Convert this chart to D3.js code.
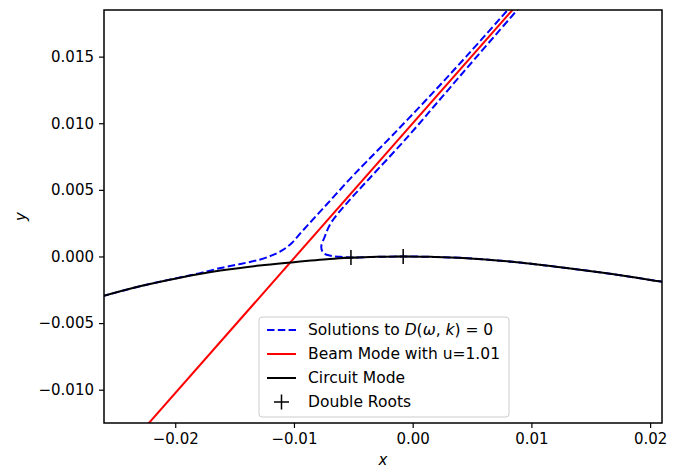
<!DOCTYPE html>
<html><head><meta charset="utf-8">
<script src="https://cdn.jsdelivr.net/npm/d3@7"></script>
<style>
body{margin:0;background:#fff}
text{font-family:"DejaVu Sans",sans-serif;fill:#000}
</style>
</head><body><svg id="c" width="681" height="468"></svg>
<script>
// ---- data ----
const xTicks = [-0.02, -0.01, 0.00, 0.01, 0.02];
const yTicks = [-0.010, -0.005, 0.000, 0.005, 0.010, 0.015];
const xDomain = [-0.026, 0.021];
const yDomain = [-0.0125, 0.0185];

// Solutions to D(w,k)=0, upper branch
const solUpperX = [-0.0262,-0.0229,-0.0196,-0.0179,-0.0162,-0.0145,-0.0129,-0.0118,-0.0110,-0.0102,-0.0093,-0.0074,-0.0052,-0.0039,-0.0017,0.0014,0.0045,0.0083,0.0090];
const solUpperY = [-0.00300,-0.00222,-0.00157,-0.00125,-0.00087,-0.00056,-0.00024,0.00010,0.00045,0.00100,0.00190,0.00375,0.00590,0.00710,0.00910,0.01200,0.01500,0.01880,0.01950];
// Solutions to D(w,k)=0, lower branch
const solLowerX = [0.0098,0.0091,0.0054,0.0025,-0.0004,-0.0037,-0.0053,-0.0069,-0.0074,-0.0077,-0.0075,-0.0069,-0.0061,-0.0052,-0.0030,-0.0008,0.0015,0.0042,0.0084,0.0126,0.0168,0.0209,0.0215];
const solLowerY = [0.0195,0.0188,0.0150,0.0120,0.0090,0.0058,0.00425,0.0025,0.0015,0.0007,0.00025,0.00005,-0.00003,-0.00007,-0.00003,0.0000,-0.00003,-0.00011,-0.00040,-0.00083,-0.00132,-0.00188,-0.00196];
// Beam mode, u = 1.01
const beamX = [-0.0235, 0.0090];
const beamY = [-0.0138, 0.0191];
// Circuit mode
const circuitX = [-0.0262,-0.0229,-0.0196,-0.0162,-0.0129,-0.0103,-0.0070,-0.0052,-0.0030,-0.0008,0.0015,0.0042,0.0084,0.0126,0.0168,0.0209,0.0215];
const circuitY = [-0.00300,-0.00222,-0.00159,-0.00106,-0.00068,-0.00045,-0.00019,-0.00010,-0.00003,0.00000,-0.00003,-0.00011,-0.00040,-0.00083,-0.00132,-0.00188,-0.00196];
// Double roots
const rootsX = [-0.0052, -0.0008];
const rootsY = [-0.00007, 0.0000];

const legendLabels = ["Solutions to", "Beam Mode with u=1.01", "Circuit Mode", "Double Roots"];

// ---- layout ----
const svg = d3.select("#c");
const L = 104, R = 662, T = 10, B = 423;
const x = d3.scaleLinear().domain(xDomain).range([L, R]);
const y = d3.scaleLinear().domain(yDomain).range([B, T]);
const minus = s => s.replace("-", "\u2212");

svg.append("defs").append("clipPath").attr("id", "clip")
  .append("rect").attr("x", L).attr("y", T).attr("width", R - L).attr("height", B - T);

const plot = svg.append("g").attr("clip-path", "url(#clip)");
const line = d3.line().x(d => x(d[0])).y(d => y(d[1])).curve(d3.curveCatmullRom.alpha(0.5));
const zip = (a, b) => a.map((v, i) => [v, b[i]]);

const dash = "7.5,3.3";
plot.append("path").datum(zip(solUpperX, solUpperY)).attr("d", line)
  .attr("fill", "none").attr("stroke", "#0000ff").attr("stroke-width", 2).attr("stroke-dasharray", dash);
plot.append("path").datum(zip(solLowerX, solLowerY)).attr("d", line)
  .attr("fill", "none").attr("stroke", "#0000ff").attr("stroke-width", 2).attr("stroke-dasharray", dash);
plot.append("path").datum(zip(beamX, beamY)).attr("d", d3.line().x(d => x(d[0])).y(d => y(d[1])))
  .attr("fill", "none").attr("stroke", "#ff0000").attr("stroke-width", 2);
plot.append("path").datum(zip(circuitX, circuitY)).attr("d", line)
  .attr("fill", "none").attr("stroke", "#000").attr("stroke-width", 2);
plot.selectAll(".root").data(zip(rootsX, rootsY)).enter().append("path")
  .attr("d", d => `M${x(d[0]) - 7.5},${y(d[1])}H${x(d[0]) + 7.5}M${x(d[0])},${y(d[1]) - 7.5}V${y(d[1]) + 7.5}`)
  .attr("stroke", "#000").attr("stroke-width", 1.5).attr("fill", "none");

// axes
const xAxis = d3.axisBottom(x).tickValues(xTicks).tickSize(5).tickPadding(5)
  .tickFormat(d => minus(d3.format(".2f")(d)));
const yAxis = d3.axisLeft(y).tickValues(yTicks).tickSize(5).tickPadding(5)
  .tickFormat(d => minus(d3.format(".3f")(d)));
const gx = svg.append("g").attr("transform", `translate(0,${B})`).call(xAxis);
const gy = svg.append("g").attr("transform", `translate(${L},0)`).call(yAxis);
[gx, gy].forEach(g => {
  g.select(".domain").remove();
  g.selectAll(".tick line").attr("stroke", "#000").attr("stroke-width", 1.2);
  g.selectAll(".tick text").attr("font-size", 15).attr("font-family", "DejaVu Sans").attr("fill", "#000");
});

svg.append("rect").attr("x", L).attr("y", T).attr("width", R - L).attr("height", B - T)
  .attr("fill", "none").attr("stroke", "#000").attr("stroke-width", 1.5);

svg.append("text").attr("x", (L + R) / 2).attr("y", 465).attr("text-anchor", "middle")
  .attr("font-size", 15).attr("font-style", "italic").text("x");
svg.append("text").attr("transform", `translate(26,${(T + B) / 2}) rotate(-90)`).attr("text-anchor", "middle")
  .attr("font-size", 15).attr("font-style", "italic").text("y");

// legend
const lg = svg.append("g");
const lx = 259, ly = 317, lw = 250, lh = 100;
lg.append("rect").attr("x", lx).attr("y", ly).attr("width", lw).attr("height", lh).attr("rx", 3)
  .attr("fill", "#fff").attr("fill-opacity", 0.8).attr("stroke", "#cccccc").attr("stroke-width", 1);
const rows = [330, 354, 378, 402];
const hx0 = lx + 8, hx1 = lx + 37, tx = lx + 49;
lg.append("line").attr("x1", hx0).attr("x2", hx1).attr("y1", rows[0]).attr("y2", rows[0])
  .attr("stroke", "#0000ff").attr("stroke-width", 2).attr("stroke-dasharray", dash);
lg.append("line").attr("x1", hx0).attr("x2", hx1).attr("y1", rows[1]).attr("y2", rows[1])
  .attr("stroke", "#ff0000").attr("stroke-width", 2);
lg.append("line").attr("x1", hx0).attr("x2", hx1).attr("y1", rows[2]).attr("y2", rows[2])
  .attr("stroke", "#000").attr("stroke-width", 2);
const cx = (hx0 + hx1) / 2;
lg.append("path").attr("d", `M${cx - 7.5},${rows[3]}H${cx + 7.5}M${cx},${rows[3] - 7.5}V${rows[3] + 7.5}`)
  .attr("stroke", "#000").attr("stroke-width", 1.5);
const t0 = lg.append("text").attr("x", tx).attr("y", rows[0] + 5).attr("font-size", 15.5);
t0.append("tspan").text(legendLabels[0] + " ");
t0.append("tspan").attr("font-style", "italic").text("D");
t0.append("tspan").text("(");
t0.append("tspan").attr("font-style", "italic").text("ω");
t0.append("tspan").text(", ");
t0.append("tspan").attr("font-style", "italic").text("k");
t0.append("tspan").text(") = 0");
for (let i = 1; i < 4; i++) {
  lg.append("text").attr("x", tx).attr("y", rows[i] + 5).attr("font-size", 15.5).text(legendLabels[i]);
}
</script></body></html>
